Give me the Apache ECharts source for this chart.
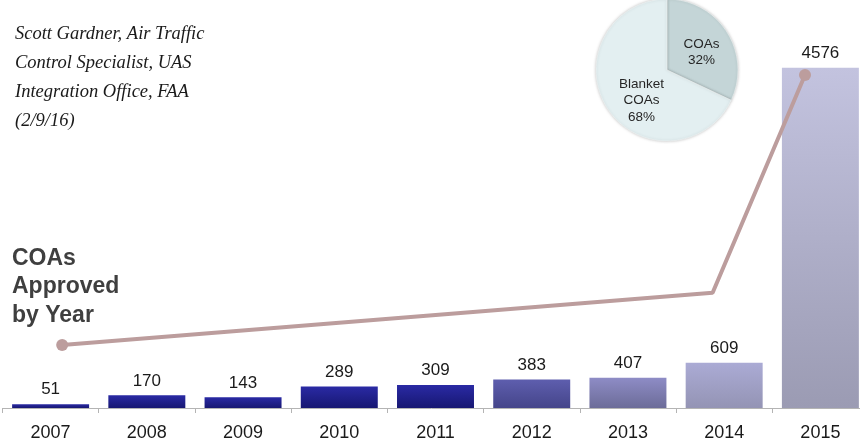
<!DOCTYPE html>
<html>
<head>
<meta charset="utf-8">
<script src="https://cdn.jsdelivr.net/npm/echarts@6/dist/echarts.min.js"></script>
<style>
html,body{margin:0;padding:0;background:#fff;}
#chart{width:860px;height:442px;}
</style>
</head>
<body>
<div id="chart"></div>
<script>
// ---- data ----
var years = ['2007','2008','2009','2010','2011','2012','2013','2014','2015'];
var approved = [51, 170, 143, 289, 309, 383, 407, 609, 4576];
// decorative trend line: [position along year axis (0 = 2007), value]
var trendX = [0.12, 6.88, 7.84];
var trendY = [847, 1550, 4478];
var pieNames = ['COAs', 'Blanket\nCOAs'];
var pieValues = [32, 68];
var titleLines = ['COAs', 'Approved', 'by Year'];
var creditLines = ['Scott Gardner, Air Traffic', 'Control Specialist, UAS', 'Integration Office, FAA', '(2/9/16)'];

// ---- styles ----
var barTop =    ['#2a2aa4','#2a2aa4','#2a2aa4','#2a2aa4','#2a2aa4','#5e5eae','#8e8cc6','#ababd5','#c3c3df'];
var barBottom = ['#171772','#171772','#171772','#171772','#171772','#45458a','#6c6c98','#9494b4','#9b9bb3'];

var chart = echarts.init(document.getElementById('chart'), null, {renderer:'canvas'});

var barData = approved.map(function(v,i){
  return {
    value: v,
    itemStyle: {
      color: new echarts.graphic.LinearGradient(0,0,0,1,[
        {offset:0, color: barTop[i]},
        {offset:1, color: barBottom[i]}
      ])
    }
  };
});

var lineData = trendX.map(function(x,i){
  var d = {value:[x, trendY[i]]};
  if (i > 0 && i < trendX.length - 1) d.symbol = 'none';
  return d;
});

var graphics = [];
titleLines.forEach(function(t,i){
  graphics.push({
    type:'text', left:12, top: 247 + i*28.5,
    style:{text:t, font:'bold 23px "Liberation Sans", Arial, sans-serif', fill:'#3f3f3f'}
  });
});
creditLines.forEach(function(t,i){
  graphics.push({
    type:'text', left:15, top: 25 + i*29,
    style:{text:t, font:'italic 18.5px "Liberation Serif", "Times New Roman", serif', fill:'#1a1a1a'}
  });
});

var option = {
  animation:false,
  backgroundColor:'#ffffff',
  grid:{left:2.5, top:36.2, width:866, height:371.8, outerBoundsMode:'none', containLabel:false},
  xAxis:[{
    type:'category', data:years, boundaryGap:true,
    axisLine:{lineStyle:{color:'#b4b4b4', width:1}},
    axisTick:{show:true, length:5, lineStyle:{color:'#b4b4b4'}},
    axisLabel:{color:'#1a1a1a', fontSize:18, margin:16, fontFamily:'"Liberation Sans", Arial, sans-serif'}
  },{
    type:'value', min:-0.5, max:8.5, show:false
  }],
  yAxis:{type:'value', min:0, max:5000, show:false, splitLine:{show:false}},
  series:[{
    type:'bar', data:barData, xAxisIndex:0, barCategoryGap:'20%',
    label:{show:true, position:'top', distance:6, color:'#1a1a1a', fontSize:17,
           fontFamily:'"Liberation Sans", Arial, sans-serif'},
    z:2
  },{
    type:'line', xAxisIndex:1, data:lineData, symbol:'circle', symbolSize:12,
    lineStyle:{color:'#bc9d9d', width:4}, itemStyle:{color:'#bc9d9d'},
    z:5
  },{
    type:'pie', center:[667,70], radius:[0,71], startAngle:90, clockwise:true,
    silent:true,
    label:{show:true, position:'inside', color:'#262626', fontSize:13.5, lineHeight:16.5,
           fontFamily:'"Liberation Sans", Arial, sans-serif',
           formatter:function(p){return p.name + '\n' + p.value + '%';}},
    labelLine:{show:false},
    itemStyle:{borderColor:'#f4f8f8', borderWidth:0.5, shadowBlur:3, shadowColor:'rgba(0,0,0,0.25)'},
    data:[
      {name:pieNames[0], value:pieValues[0], itemStyle:{color:'#c4d5d7'}, label:{offset:[2,3]}},
      {name:pieNames[1], value:pieValues[1], itemStyle:{color:'#e3eff1'}, label:{offset:[7,10]}}
    ],
    z:3
  }],
  graphic: graphics
};
chart.setOption(option);
</script>
</body>
</html>
